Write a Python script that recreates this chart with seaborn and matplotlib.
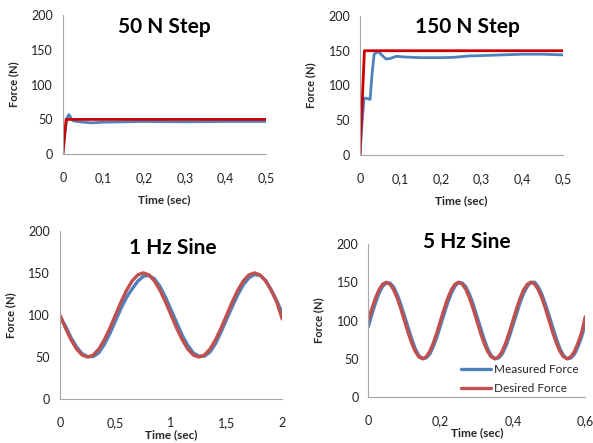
import matplotlib
matplotlib.use("Agg")
import matplotlib.pyplot as plt
import seaborn as sns
import pandas as pd
from matplotlib.ticker import FuncFormatter

sns.set_theme(style="white")
plt.rcParams['font.family'] = ['Lato', 'DejaVu Sans']

BLUE = "#4F81BD"
RED_STEP = "#CC0000"
RED_SINE = "#C0504D"
AXC = "#A6A6A6"

# ---- 50 N step ----
s50_meas_t = [0, 0.005, 0.01, 0.015, 0.02, 0.025, 0.035, 0.05, 0.07, 0.1, 0.15, 0.2, 0.3, 0.4, 0.5]
s50_meas_f = [0, 30, 52, 57, 52, 48, 47, 46, 45, 46, 46.5, 47, 46.5, 47, 47]
s50_des_t = [0, 0.008, 0.5]
s50_des_f = [0, 50, 50]

# ---- 150 N step ----
s150_meas_t = [0, 0.005, 0.01, 0.02, 0.025, 0.03, 0.035, 0.045, 0.055, 0.065, 0.075, 0.09,
               0.11, 0.15, 0.2, 0.23, 0.27, 0.3, 0.35, 0.4, 0.45, 0.5]
s150_meas_f = [0, 45, 82, 81, 80, 118, 145, 149, 143, 138, 139, 142,
               141, 140, 140, 140.5, 142.5, 143, 144, 145, 145, 144]
s150_des_t = [0, 0.011, 0.5]
s150_des_f = [0, 150, 150]

# ---- 1 Hz sine (sampled every 0.05 s) ----
h1_t = [i * 0.05 for i in range(41)]
h1_des = [100, 84.5, 70.6, 59.5, 52.4, 50, 52.4, 59.5, 70.6, 84.5,
          100, 115.5, 129.4, 140.5, 147.6, 150, 147.6, 140.5, 129.4, 115.5,
          100, 84.5, 70.6, 59.5, 52.4, 50, 52.4, 59.5, 70.6, 84.5,
          100, 115.5, 129.4, 140.5, 147.6, 150, 147.6, 140.5, 129.4, 115.5, 95]
h1_meas = [98, 87, 73, 62, 54, 50.5, 50.5, 55, 65, 78,
           93, 108, 121, 131, 140, 146, 147, 143, 134, 121,
           106, 91, 76, 64, 55, 51, 51, 56, 66, 80,
           95, 110, 124, 136, 144, 148, 147, 141, 130, 117, 102]

# ---- 5 Hz sine (sampled every 0.01 s) ----
h5_t = [i * 0.01 for i in range(61)]
h5_des = [100, 115.5, 129.4, 140.5, 147.6, 150, 147.6, 140.5, 129.4, 115.5,
          100, 84.5, 70.6, 59.5, 52.4, 50, 52.4, 59.5, 70.6, 84.5,
          100, 115.5, 129.4, 140.5, 147.6, 150, 147.6, 140.5, 129.4, 115.5,
          100, 84.5, 70.6, 59.5, 52.4, 50, 52.4, 59.5, 70.6, 84.5,
          100, 115.5, 129.4, 140.5, 147.6, 150, 147.6, 140.5, 129.4, 115.5,
          100, 84.5, 70.6, 59.5, 52.4, 50, 52.4, 59.5, 70.6, 84.5, 105]
h5_meas = [92, 108, 123, 136, 145, 149, 149, 144, 134, 121,
           106, 91, 76, 63, 54, 50, 51, 56, 66, 79,
           94, 109, 124, 136, 145, 150, 149, 144, 134, 121,
           106, 91, 76, 63, 54, 50, 51, 56, 66, 79,
           94, 109, 124, 136, 145, 150, 150, 144, 134, 121,
           106, 91, 76, 63, 54, 50, 51, 56, 66, 79, 96]

fig = plt.figure(figsize=(5.93, 4.43), dpi=100)

def comma(x, pos):
    s = f"{x:g}"
    return s.replace(".", ",")

def make_df(mt, mf, dt, df_):
    a = pd.DataFrame({"t": mt, "F": mf, "series": "Measured Force"})
    b = pd.DataFrame({"t": dt, "F": df_, "series": "Desired Force"})
    return pd.concat([a, b], ignore_index=True)

def style(ax, xlim, xticks, yticks, xlpad, ylpad):
    ax.set_xlim(*xlim)
    ax.set_ylim(0, 200)
    ax.set_xticks(xticks)
    ax.set_yticks(yticks)
    ax.xaxis.set_major_formatter(FuncFormatter(comma))
    for s in ["top", "right"]:
        ax.spines[s].set_visible(False)
    for s in ["left", "bottom"]:
        ax.spines[s].set_color(AXC)
        ax.spines[s].set_linewidth(0.8)
    ax.tick_params(axis="both", which="major", length=4, width=0.8, color=AXC,
                   labelsize=9, labelcolor="#222222", direction="out", pad=3)
    ax.tick_params(axis="x", pad=9)
    ax.set_xlabel("Time (sec)", fontsize=8.5, fontweight="bold", labelpad=xlpad)
    ax.set_ylabel("Force (N)", fontsize=8, fontweight="bold", labelpad=ylpad)
    ax.grid(False)

panels = [
    dict(pos=[0.106, 0.652, 0.343, 0.314], data=(s50_meas_t, s50_meas_f, s50_des_t, s50_des_f),
         red=RED_STEP, xlim=(0, 0.5), xticks=[0, 0.1, 0.2, 0.3, 0.4, 0.5], yticks=[0, 50, 100, 150, 200],
         title="50 N Step", tpos=(0.278, 0.94), legend=False, xlpad=7, ylpad=9),
    dict(pos=[0.607, 0.650, 0.342, 0.314], data=(s150_meas_t, s150_meas_f, s150_des_t, s150_des_f),
         red=RED_STEP, xlim=(0, 0.5), xticks=[0, 0.1, 0.2, 0.3, 0.4, 0.5], yticks=[0, 50, 100, 150, 200],
         title="150 N Step", tpos=(0.788, 0.938), legend=False, xlpad=7, ylpad=9),
    dict(pos=[0.101, 0.099, 0.375, 0.380], data=(h1_t, h1_meas, h1_t, h1_des),
         red=RED_SINE, xlim=(0, 2), xticks=[0, 0.5, 1, 1.5, 2], yticks=[0, 50, 100, 150, 200],
         title="1 Hz Sine", tpos=(0.292, 0.44), legend=False, xlpad=0, ylpad=9),
    dict(pos=[0.621, 0.104, 0.366, 0.345], data=(h5_t, h5_meas, h5_t, h5_des),
         red=RED_SINE, xlim=(0, 0.6), xticks=[0, 0.2, 0.4, 0.6], yticks=[0, 50, 100, 150, 200],
         title="5 Hz Sine", tpos=(0.788, 0.453), legend=True, xlpad=0, ylpad=9),
]

for p in panels:
    ax = fig.add_axes(p["pos"])
    d = make_df(*p["data"])
    pal = {"Measured Force": BLUE, "Desired Force": p["red"]}
    if p["title"].endswith("Sine"):
        d = pd.concat([d[d.series == "Desired Force"], d[d.series == "Measured Force"]])
        lw = 2.4
    else:
        d = pd.concat([d[d.series == "Measured Force"], d[d.series == "Desired Force"]])
        lw = 2.0
    order = ["Measured Force", "Desired Force"]
    sns.lineplot(data=d, x="t", y="F", hue="series", hue_order=order, palette=pal,
                 sort=False, estimator=None, linewidth=lw, ax=ax, legend=p["legend"])
    style(ax, p["xlim"], p["xticks"], p["yticks"], p["xlpad"], p["ylpad"])
    fig.text(p["tpos"][0], p["tpos"][1], p["title"], ha="center", va="center",
             fontsize=15, fontweight="bold", color="black")
    if p["legend"]:
        h, l = ax.get_legend_handles_labels()
        ax.legend(h, l, loc="lower right", bbox_to_anchor=(1.0, -0.03), frameon=False,
                  fontsize=8.5, handlelength=2.6, handletextpad=0.2, labelspacing=0.7,
                  borderaxespad=0.2)

fig.savefig("out.png", dpi=100)
